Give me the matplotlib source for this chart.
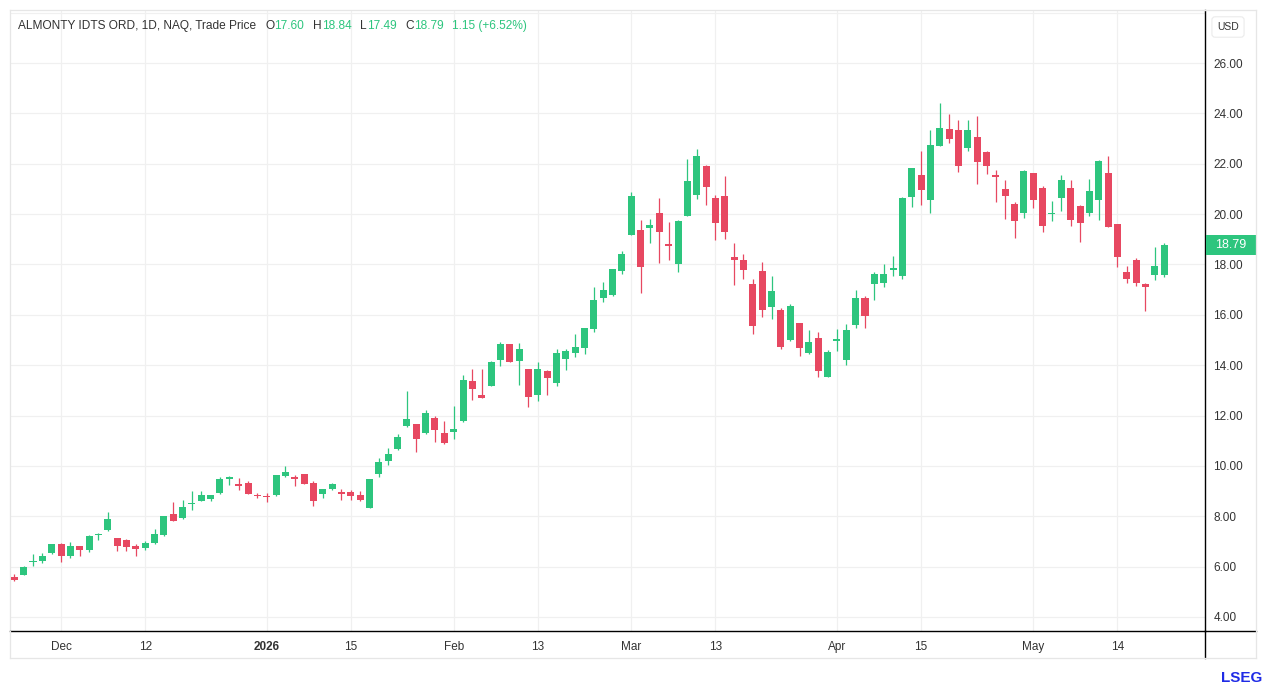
import matplotlib
matplotlib.use("Agg")
import matplotlib.pyplot as plt
import numpy as np
import pandas as pd
from matplotlib.lines import Line2D
from matplotlib.patches import Rectangle

plt.rcParams['font.family'] = ['Liberation Sans', 'DejaVu Sans']

# ---------------- data ----------------
HOLIDAYS = ['2025-11-27', '2025-12-25', '2026-01-01', '2026-01-19',
            '2026-02-16', '2026-04-03']
dates = pd.bdate_range('2025-11-21', '2026-05-21', freq='C', holidays=HOLIDAYS)

opens = [5.59, 5.67, 6.19, 6.23, 6.52, 6.88, 6.41, 6.80, 6.65, 7.24,
         7.45, 7.12, 7.05, 6.80, 6.72, 6.93, 7.24, 8.09, 7.94, 8.49,
         8.62, 8.69, 8.92, 9.46, 9.26, 9.30, 8.84, 8.80, 8.84, 9.58,
         9.55, 9.66, 9.30, 8.89, 9.09, 8.96, 8.95, 8.84, 8.31, 9.66,
         10.18, 10.67, 11.57, 11.66, 11.31, 11.92, 11.30, 11.35, 11.79, 13.36,
         12.82, 13.18, 14.20, 14.85, 14.16, 13.84, 12.82, 13.76, 13.30, 14.24,
         14.48, 14.68, 15.42, 16.68, 16.78, 17.74, 19.18, 19.36, 19.46, 20.03,
         18.81, 18.01, 19.92, 20.78, 21.91, 20.65, 20.73, 18.30, 18.19, 17.22,
         17.76, 16.33, 16.20, 14.99, 15.68, 14.49, 15.06, 13.55, 14.99, 14.21,
         15.60, 16.66, 17.23, 17.25, 17.77, 17.54, 20.69, 21.55, 20.55, 22.69,
         23.38, 23.34, 22.61, 23.06, 22.45, 21.54, 20.99, 20.41, 20.06, 21.65,
         21.02, 20.01, 20.65, 21.02, 20.31, 20.06, 20.58, 21.65, 19.61, 17.72,
         18.16, 17.22, 17.59, 17.60]
highs = [5.69, 6.04, 6.49, 6.53, 6.88, 6.93, 6.97, 6.82, 7.26, 7.34,
         8.17, 7.15, 7.08, 6.88, 7.00, 7.51, 8.00, 8.56, 8.64, 9.00,
         9.00, 8.86, 9.54, 9.59, 9.50, 9.38, 8.93, 8.94, 9.62, 9.98,
         9.63, 9.69, 9.39, 9.10, 9.30, 9.08, 9.03, 9.02, 9.46, 10.33,
         10.70, 11.27, 12.98, 11.68, 12.20, 11.97, 11.77, 12.38, 13.60, 13.84,
         13.84, 14.16, 14.94, 14.85, 14.90, 13.84, 14.11, 13.80, 14.64, 14.64,
         15.23, 15.47, 17.11, 17.31, 17.81, 18.54, 20.89, 19.77, 19.80, 20.65,
         19.68, 19.76, 22.19, 22.58, 21.96, 20.75, 21.52, 18.85, 18.42, 17.42,
         18.11, 17.54, 16.26, 16.42, 15.68, 15.40, 15.32, 14.60, 15.45, 15.64,
         16.99, 16.75, 17.72, 18.02, 18.34, 20.69, 21.82, 22.52, 23.34, 24.40,
         23.97, 23.74, 23.74, 23.89, 22.49, 21.75, 21.35, 20.49, 21.77, 21.65,
         21.11, 20.51, 21.54, 21.34, 20.37, 21.38, 22.16, 22.31, 19.61, 17.95,
         18.24, 17.26, 18.68, 18.84]
lows = [5.43, 5.66, 6.01, 6.15, 6.49, 6.17, 6.33, 6.41, 6.57, 7.05,
        7.42, 6.61, 6.61, 6.41, 6.65, 6.90, 7.21, 7.81, 7.89, 8.26,
        8.62, 8.62, 8.89, 9.24, 9.04, 8.88, 8.74, 8.57, 8.80, 9.55,
        9.20, 9.28, 8.40, 8.73, 9.06, 8.66, 8.64, 8.62, 8.31, 9.54,
        10.02, 10.64, 11.54, 10.56, 11.28, 10.94, 10.87, 11.06, 11.75, 12.62,
        12.68, 13.18, 13.96, 14.11, 13.22, 12.32, 12.58, 12.82, 13.18, 13.80,
        14.32, 14.46, 15.32, 16.52, 16.76, 17.62, 19.18, 16.86, 18.87, 18.04,
        18.16, 17.70, 19.92, 20.62, 20.38, 18.99, 19.02, 17.18, 17.42, 15.22,
        15.93, 15.85, 14.64, 14.95, 14.36, 14.45, 13.55, 13.55, 14.57, 14.01,
        15.47, 15.49, 16.57, 17.10, 17.56, 17.41, 20.27, 20.38, 20.03, 22.69,
        22.81, 21.69, 22.49, 21.21, 21.59, 20.49, 19.81, 19.07, 19.86, 20.25,
        19.28, 19.74, 20.13, 19.54, 18.88, 19.93, 19.76, 19.49, 17.90, 17.27,
        17.13, 16.17, 17.39, 17.49]
closes = [5.48, 5.99, 6.21, 6.41, 6.88, 6.43, 6.82, 6.65, 7.22, 7.30,
          7.89, 6.81, 6.77, 6.69, 6.92, 7.30, 7.99, 7.82, 8.37, 8.51,
          8.84, 8.84, 9.46, 9.56, 9.21, 8.88, 8.81, 8.76, 9.62, 9.74,
          9.49, 9.28, 8.61, 9.10, 9.26, 8.90, 8.82, 8.65, 9.46, 10.17,
          10.47, 11.15, 11.85, 11.07, 12.11, 11.42, 10.91, 11.46, 13.40, 13.06,
          12.68, 14.11, 14.85, 14.11, 14.66, 12.75, 13.84, 13.50, 14.50, 14.57,
          14.73, 15.47, 16.57, 16.99, 17.81, 18.42, 20.73, 17.92, 19.55, 19.31,
          18.72, 19.72, 21.31, 22.30, 21.06, 19.66, 19.31, 18.17, 17.77, 15.54,
          16.20, 16.94, 14.72, 16.37, 14.69, 14.94, 13.75, 14.52, 15.03, 15.38,
          16.66, 15.97, 17.62, 17.62, 17.85, 20.65, 21.82, 20.97, 22.76, 23.42,
          22.99, 21.91, 23.34, 22.07, 21.91, 21.48, 20.73, 19.74, 21.71, 20.58,
          19.52, 20.06, 21.34, 19.78, 19.64, 20.91, 22.13, 19.49, 18.29, 17.42,
          17.27, 17.09, 17.94, 18.79]

CHANGE = 1.15
CHANGE_PCT = 6.52

tick_dates = ['2025-12-01', '2025-12-12', '2026-01-02', '2026-01-15',
              '2026-02-02', '2026-02-13', '2026-03-02', '2026-03-13',
              '2026-04-01', '2026-04-15', '2026-05-01', '2026-05-14']
tick_labels = ['Dec', '12', '2026', '15', 'Feb', '13', 'Mar', '13',
               'Apr', '15', 'May', '14']
price_ticks = [4, 6, 8, 10, 12, 14, 16, 18, 20, 22, 24, 26, 28]
price_labels = ['4.00', '6.00', '8.00', '10.00', '12.00', '14.00', '16.00',
                '18.00', '20.00', '22.00', '24.00', '26.00', '']

# ---------------- style ----------------
GREEN = '#2DC57E'
RED = '#E74861'
DARK = '#333333'
GRID = '#F0F0F0'
BORDER = '#E6E6E6'

W, H = 1266, 689
fig = plt.figure(figsize=(W / 100, H / 100), dpi=100)
fig.patch.set_facecolor('white')
ax = fig.add_axes([10 / W, (H - 631) / H, 1195 / W, 621 / H])

o = np.array(opens); h = np.array(highs); l = np.array(lows); c = np.array(closes)
x = np.arange(len(dates))
up = c >= o
colors = np.where(up, GREEN, RED)

ax.vlines(x, l, h, colors=colors, linewidth=0.9, zorder=2)
min_h = 0.06
body = np.abs(c - o)
bottom = np.where(body < min_h, (o + c) / 2 - min_h / 2, np.minimum(o, c))
height = np.maximum(body, min_h)
ax.bar(x, height, bottom=bottom, width=0.75, color=colors, linewidth=0, zorder=3)

ax.set_xlim(-0.46, 127.37)
ax.set_ylim(3.44, 28.11)

tick_pos = [dates.get_loc(pd.Timestamp(d)) for d in tick_dates]
ax.set_xticks(tick_pos)
ax.set_xticklabels(tick_labels)
for lab in ax.get_xticklabels():
    if lab.get_text() == '2026':
        lab.set_fontweight('bold')
ax.set_yticks(price_ticks)
ax.set_yticklabels(price_labels)
ax.yaxis.tick_right()
ax.tick_params(axis='y', length=0, pad=6, labelsize=8.5, labelcolor=DARK)
ax.tick_params(axis='x', length=0, pad=7, labelsize=8.5, labelcolor=DARK)
ax.grid(True, color=GRID, linewidth=0.9)
ax.set_axisbelow(True)

for side in ('left', 'top'):
    ax.spines[side].set_color(BORDER)
    ax.spines[side].set_linewidth(0.9)
for side in ('right', 'bottom'):
    ax.spines[side].set_color('black')
    ax.spines[side].set_linewidth(1.0)

# extra panel lines (figure pixels)
def fline(x0, y0, x1, y1, color, lw):
    fig.add_artist(Line2D([x0 / W, x1 / W], [1 - y0 / H, 1 - y1 / H],
                          color=color, linewidth=lw, transform=fig.transFigure))

fline(1205, 631, 1205, 658, 'black', 1.0)
fline(1205, 631, 1256, 631, 'black', 1.0)
fline(10, 658, 1256, 658, BORDER, 0.9)
fline(10, 631, 10, 658, BORDER, 0.9)
fline(1256, 10, 1256, 658, BORDER, 0.9)
fline(1205, 10, 1256, 10, BORDER, 0.9)

# last price label
last = closes[-1]
half = 10 / 25.18
ax.add_patch(Rectangle((1.0008, last - half), 0.0418, 2 * half,
                       transform=ax.get_yaxis_transform(), clip_on=False,
                       facecolor=GREEN, edgecolor='none', zorder=5))
ax.text(1.0008 + 0.0209, last, f'{last:.2f}', transform=ax.get_yaxis_transform(),
        ha='center', va='center', color='white', fontsize=9, clip_on=False, zorder=6)

# USD box
fig.text(1228 / W, 1 - 27 / H, 'USD', ha='center', va='center', fontsize=7.5,
         color=DARK, bbox=dict(boxstyle='round,pad=0.5,rounding_size=0.3',
                               facecolor='white', edgecolor='#EBEBEB', linewidth=0.8))

# header
renderer = fig.canvas.get_renderer()
header_parts = [
    ('ALMONTY IDTS ORD, 1D, NAQ, Trade Price', DARK, 0),
    ('O', DARK, 9), (f'{opens[-1]:.2f}', GREEN, 0),
    ('H', DARK, 9), (f'{highs[-1]:.2f}', GREEN, 0),
    ('L', DARK, 9), (f'{lows[-1]:.2f}', GREEN, 0),
    ('C', DARK, 9), (f'{closes[-1]:.2f}', GREEN, 0),
    (f'{CHANGE:.2f} (+{CHANGE_PCT:.2f}%)', GREEN, 8),
]
xp = 18
for txt, col, gap in header_parts:
    xp += gap
    t = fig.text(xp / W, 1 - 26 / H, txt, color=col, fontsize=8.6, ha='left', va='center')
    bb = t.get_window_extent(renderer)
    xp = bb.x1

# LSEG logo text
fig.text(1262 / W, 1 - 678 / H, 'LSEG', ha='right', va='center', fontsize=11,
         fontweight='bold', color='#1F2BE6')

fig.savefig('out.png', dpi=100, facecolor='white')
